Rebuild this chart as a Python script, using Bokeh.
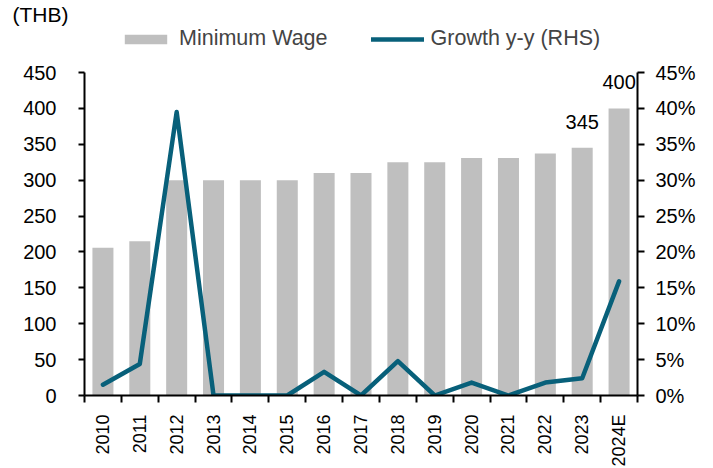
import math
from bokeh.plotting import figure
from bokeh.models import (ColumnDataSource, Range1d, LinearAxis, FixedTicker,
                          PrintfTickFormatter, Legend, LegendItem)
from bokeh.core.properties import value
from bokeh.embed import file_html
from bokeh.resources import INLINE

years = ["2010", "2011", "2012", "2013", "2014", "2015", "2016", "2017",
         "2018", "2019", "2020", "2021", "2022", "2023", "2024E"]
min_wage = [206, 215, 300, 300, 300, 300, 310, 310, 325, 325, 331, 331, 337, 345, 400]
growth = [1.5, 4.4, 39.5, 0, 0, 0, 3.3, 0, 4.8, 0, 1.8, 0, 1.8, 2.4, 15.9]
bar_labels = ["", "", "", "", "", "", "", "", "", "", "", "", "", "345", "400"]
left_ticks = [0, 50, 100, 150, 200, 250, 300, 350, 400, 450]
right_ticks = [0, 5, 10, 15, 20, 25, 30, 35, 40, 45]

FONT = "Liberation Sans"
FS = "20px"
BAR = "#BFBFBF"
LINE = "#08607A"

PLOT_H = 323
EXT = 47
YMAX = left_ticks[-1]
PMAX = right_ticks[-1]

xc = [i + 0.5 for i in range(len(years))]
src = ColumnDataSource(dict(x=xc, wage=min_wage, growth=growth, lab=bar_labels))

p = figure(frame_width=553, frame_height=PLOT_H + EXT, output_backend="svg",
           toolbar_location=None,
           x_range=Range1d(0, len(years)),
           y_range=Range1d(0, YMAX * (PLOT_H + EXT) / PLOT_H),
           min_border_left=84, min_border_right=66, min_border_top=0,
           min_border_bottom=72, outline_line_color=None,
           title="(THB)", title_location="above")
p.title.align = "left"
p.title.offset = -72
p.title.vertical_align = "bottom"
p.title.text_font = FONT
p.title.text_font_size = "21px"
p.title.text_font_style = "normal"
p.title.text_color = "black"
p.title.standoff = 0

p.extra_y_ranges = {"pct": Range1d(0, PMAX * (PLOT_H + EXT) / PLOT_H)}
p.xgrid.visible = False
p.ygrid.visible = False

bars = p.vbar(x="x", top="wage", width=0.57, source=src, fill_color=BAR, line_color=None)
ln = p.line(x="x", y="growth", source=src, y_range_name="pct", line_color=LINE,
            line_width=4.5, line_join="round", line_cap="round")
p.text(x="x", y="wage", text="lab", source=src, text_align="center",
       text_baseline="bottom", y_offset=-19, text_font=value(FONT),
       text_font_size=FS, text_color="black")

def style(ax):
    ax.axis_line_color = "black"
    ax.axis_line_width = 2
    ax.major_tick_line_color = "black"
    ax.major_tick_line_width = 2
    ax.minor_tick_line_color = "black"
    ax.minor_tick_line_width = 2
    ax.major_label_text_font = FONT
    ax.major_label_text_font_size = FS
    ax.major_label_text_color = "black"

xa = p.xaxis[0]
style(xa)
xa.ticker = FixedTicker(ticks=xc, minor_ticks=list(range(len(years) + 1)))
xa.major_label_overrides = {c: y for c, y in zip(xc, years)}
xa.major_label_text_font_size = "18px"
xa.major_tick_in = 0
xa.major_tick_out = 0
xa.minor_tick_in = 0
xa.minor_tick_out = 7
xa.major_label_orientation = math.pi / 2
xa.major_label_standoff = 12

ya = p.yaxis[0]
style(ya)
ya.ticker = FixedTicker(ticks=left_ticks)
ya.bounds = (0, YMAX)
ya.major_tick_in = 0
ya.major_tick_out = 6
ya.minor_tick_out = 0
ya.minor_tick_in = 0
ya.major_label_standoff = 22

ra = LinearAxis(y_range_name="pct", ticker=FixedTicker(ticks=right_ticks),
                formatter=PrintfTickFormatter(format="%d%%"), bounds=(0, PMAX))
style(ra)
ra.major_tick_in = 0
ra.major_tick_out = 7
ra.minor_tick_out = 0
ra.minor_tick_in = 0
ra.major_label_standoff = 11
p.add_layout(ra, "right")

legend = Legend(items=[LegendItem(label="Minimum Wage", renderers=[bars]),
                       LegendItem(label="Growth y-y (RHS)", renderers=[ln])],
                orientation="horizontal", location=(35, PLOT_H + 21),
                label_text_font=FONT, label_text_font_size="21.5px",
                glyph_width=53, glyph_height=12, label_standoff=7, spacing=43,
                padding=0, margin=0, border_line_color=None,
                background_fill_alpha=0)
p.add_layout(legend)

open("out.html", "w").write(file_html(p, INLINE))
